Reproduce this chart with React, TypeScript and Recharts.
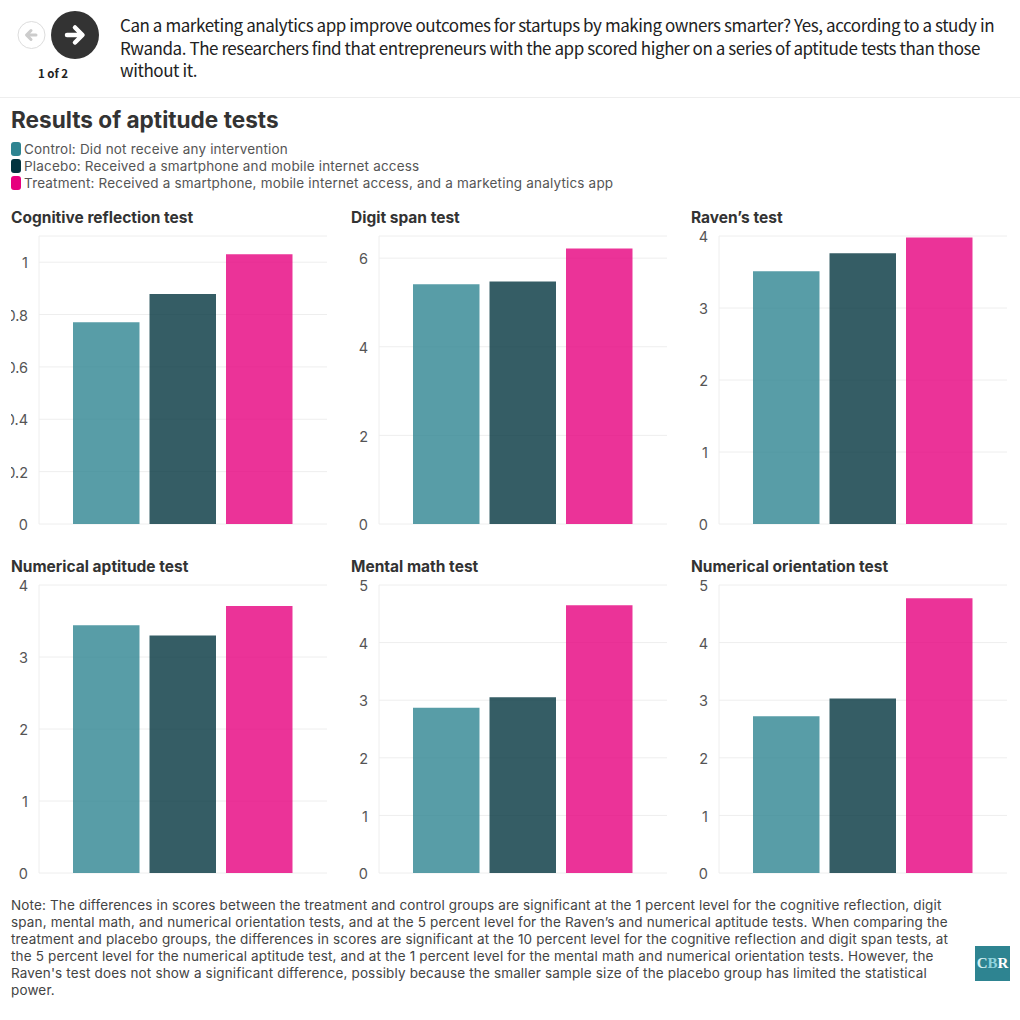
import { BarChart, Bar, XAxis, YAxis, CartesianGrid } from "recharts";

const groups = ["Control", "Placebo", "Treatment"];
const groupColors = ["#2e8491", "#02343f", "#e6007e"];
const legendLabels = [
  "Control: Did not receive any intervention",
  "Placebo: Received a smartphone and mobile internet access",
  "Treatment: Received a smartphone, mobile internet access, and a marketing analytics app",
];

const cognitive = [0.771, 0.878, 1.03];
const digitSpan = [5.41, 5.475, 6.22];
const ravens = [3.51, 3.76, 3.98];
const numericalAptitude = [3.44, 3.3, 3.71];
const mentalMath = [2.87, 3.05, 4.65];
const numericalOrientation = [2.72, 3.03, 4.77];

const panels = [
  { title: "Cognitive reflection test", values: cognitive, max: 1.1, ticks: [0, 0.2, 0.4, 0.6, 0.8, 1] },
  { title: "Digit span test", values: digitSpan, max: 6.5, ticks: [0, 2, 4, 6] },
  { title: "Raven’s test", values: ravens, max: 4, ticks: [0, 1, 2, 3, 4] },
  { title: "Numerical aptitude test", values: numericalAptitude, max: 4, ticks: [0, 1, 2, 3, 4] },
  { title: "Mental math test", values: mentalMath, max: 5, ticks: [0, 1, 2, 3, 4, 5] },
  { title: "Numerical orientation test", values: numericalOrientation, max: 5, ticks: [0, 1, 2, 3, 4, 5] },
];

const introLines = [
  "Can a marketing analytics app improve outcomes for startups by making owners smarter? Yes, according to a study in",
  "Rwanda. The researchers find that entrepreneurs with the app scored higher on a series of aptitude tests than those",
  "without it.",
];
const noteLines = [
  "Note: The differences in scores between the treatment and control groups are significant at the 1 percent level for the cognitive reflection, digit",
  "span, mental math, and numerical orientation tests, and at the 5 percent level for the Raven’s and numerical aptitude tests. When comparing the",
  "treatment and placebo groups, the differences in scores are significant at the 10 percent level for the cognitive reflection and digit span tests, at",
  "the 5 percent level for the numerical aptitude test, and at the 1 percent level for the mental math and numerical orientation tests. However, the",
  "Raven's test does not show a significant difference, possibly because the smaller sample size of the placebo group has limited the statistical",
  "power.",
];

const sansFont = "Inter, 'Noto Sans', sans-serif";
const introFont = "'Noto Sans CJK SC', 'Noto Sans', sans-serif";

function Panel({ panel, x, y }: { panel: (typeof panels)[number]; x: number; y: number }) {
  const row: Record<string, string | number> = { name: "score" };
  groups.forEach((g, i) => {
    row[g] = panel.values[i];
  });
  return (
    <div style={{ position: "absolute", left: x, top: y, width: 316 }}>
      <div
        style={{
          position: "absolute",
          left: 0,
          top: 0,
          fontFamily: sansFont,
          fontWeight: 700,
          fontSize: 15.5,
          lineHeight: "18px",
          color: "#333",
          whiteSpace: "nowrap",
        }}
      >
        {panel.title}
      </div>
      <div style={{ position: "absolute", left: 0, top: 17 }}>
        <BarChart
          width={316}
          height={304}
          data={[row]}
          margin={{ top: 10, right: 0, bottom: 6, left: 0 }}
          barSize={66.5}
          barGap={10}
        >
          <CartesianGrid vertical={false} stroke="#eeeeee" />
          <XAxis dataKey="name" hide />
          <YAxis
            width={28}
            domain={[0, panel.max]}
            ticks={panel.ticks}
            interval={0}
            allowDataOverflow
            tickLine={false}
            axisLine={{ stroke: "#eeeeee" }}
            tickMargin={5}
            tick={{ fill: "#555", fontSize: 14.5, fontFamily: sansFont, dy: 1 }}
          />
          {groups.map((g, i) => (
            <Bar key={g} dataKey={g} fill={groupColors[i]} fillOpacity={0.8} isAnimationActive={false} />
          ))}
        </BarChart>
      </div>
    </div>
  );
}

export default function App() {
  const xs = [11, 351, 691];
  return (
    <div
      style={{
        position: "absolute",
        left: 0,
        top: 0,
        width: 1020,
        height: 1020,
        overflow: "hidden",
        background: "#fff",
        color: "#333",
      }}
    >
      {/* header */}
      <svg style={{ position: "absolute", left: 0, top: 0 }} width={110} height={65}>
        <circle cx={31.5} cy={35} r={13.5} fill="#fff" stroke="#ddd" />
        <path d="M36 35H27M31 30.5L26.5 35L31 39.5" fill="none" stroke="#ccc" strokeWidth={3} strokeLinecap="round" strokeLinejoin="round" />
        <circle cx={75} cy={35} r={24} fill="#333" />
        <path d="M67 35H82M75 27.5L82.5 35L75 42.5" fill="none" stroke="#fff" strokeWidth={4.5} strokeLinecap="round" strokeLinejoin="round" />
      </svg>
      <div
        style={{
          position: "absolute",
          left: 23,
          width: 60,
          top: 66,
          textAlign: "center",
          fontFamily: introFont,
          fontWeight: 700,
          fontSize: 11.5,
          lineHeight: "14px",
          color: "#222",
        }}
      >
        1 of 2
      </div>
      <div
        style={{
          position: "absolute",
          left: 120,
          top: 14,
          fontFamily: introFont,
          fontSize: 17,
          letterSpacing: -0.43,
          lineHeight: "22.5px",
          color: "#222",
          whiteSpace: "nowrap",
        }}
      >
        {introLines.map((line) => (
          <div key={line}>{line}</div>
        ))}
      </div>
      <div style={{ position: "absolute", left: 0, top: 97, width: 1020, height: 1, background: "#eee" }} />

      {/* title + legend */}
      <div
        style={{
          position: "absolute",
          left: 11,
          top: 106,
          fontFamily: sansFont,
          fontWeight: 700,
          fontSize: 22.6,
          lineHeight: "28px",
          color: "#333",
          whiteSpace: "nowrap",
        }}
      >
        Results of aptitude tests
      </div>
      {legendLabels.map((label, i) => (
        <div key={label} style={{ position: "absolute", left: 11, top: 141 + i * 17, height: 17, whiteSpace: "nowrap" }}>
          <span
            style={{
              position: "absolute",
              left: 0,
              top: 1,
              width: 10,
              height: 14,
              borderRadius: 3,
              background: groupColors[i],
            }}
          />
          <span
            style={{
              position: "absolute",
              left: 13,
              top: 0,
              fontFamily: sansFont,
              fontSize: 13.5,
              letterSpacing: 0.18,
              lineHeight: "17px",
              color: "#555",
            }}
          >
            {label}
          </span>
        </div>
      ))}

      {/* small multiples */}
      {panels.map((panel, i) => (
        <Panel key={panel.title} panel={panel} x={xs[i % 3]} y={i < 3 ? 209 : 558} />
      ))}

      {/* note */}
      <div
        style={{
          position: "absolute",
          left: 11,
          top: 897,
          fontFamily: sansFont,
          fontSize: 13.5,
          letterSpacing: 0.15,
          lineHeight: "17px",
          color: "#444",
          whiteSpace: "nowrap",
        }}
      >
        {noteLines.map((line) => (
          <div key={line}>{line}</div>
        ))}
      </div>
      <div
        style={{
          position: "absolute",
          left: 975,
          top: 946,
          width: 35,
          height: 35,
          background: "#2e8491",
          textAlign: "center",
          fontFamily: "'Liberation Serif', serif",
          fontWeight: 700,
          fontSize: 15,
          lineHeight: "35px",
        }}
      >
        <span style={{ color: "#d5f0f3" }}>C</span>
        <span style={{ color: "#8fd3dd" }}>B</span>
        <span style={{ color: "#fff" }}>R</span>
      </div>
    </div>
  );
}
